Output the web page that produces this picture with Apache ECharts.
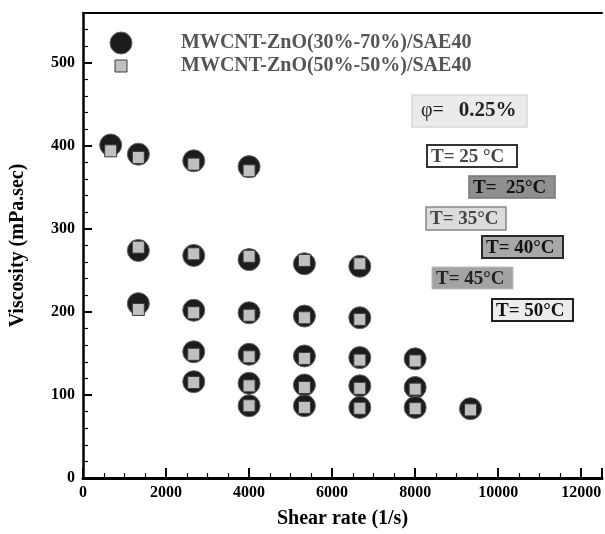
<!DOCTYPE html>
<html>
<head>
<meta charset="utf-8">
<script src="https://cdn.jsdelivr.net/npm/echarts@6/dist/echarts.min.js"></script>
<style>
html,body{margin:0;padding:0;background:#fff;}
#chart{width:605px;height:534px;}
</style>
</head>
<body>
<div id="chart"></div>
<script>
// Shear rate (1/s) for each temperature group
const shearT25 = [667, 1333, 2667, 4000];
const shearT35 = [1333, 2667, 4000, 5333, 6667];
const shearT40 = [1333, 2667, 4000, 5333, 6667];
const shearT45 = [2667, 4000, 5333, 6667, 8000];
const shearT50a = [2667, 4000, 5333, 6667, 8000];
const shearT50b = [4000, 5333, 6667, 8000, 9333];

// MWCNT-ZnO(30%-70%)/SAE40 viscosity (mPa.sec)
const visA_T25 = [401, 390, 382, 375];
const visA_T35 = [274, 268, 263, 258, 255];
const visA_T40 = [210, 202, 199, 195, 193];
const visA_T45 = [152, 149, 147, 145, 143.5];
const visA_T50a = [116, 114, 112, 111, 109];
const visA_T50b = [87, 87, 85, 85, 83.5];

// MWCNT-ZnO(50%-50%)/SAE40 viscosity (mPa.sec)
const visB_T25 = [394, 386, 378, 370];
const visB_T35 = [278, 270, 267, 262, 258];
const visB_T40 = [203, 199, 196, 193, 191];
const visB_T45 = [149, 146, 144, 142, 141];
const visB_T50a = [115, 111, 109, 108, 107];
const visB_T50b = [87, 85, 84, 83.5, 82];

const seriesNames = ['MWCNT-ZnO(30%-70%)/SAE40', 'MWCNT-ZnO(50%-50%)/SAE40'];
const tempLabels = ['T= 25 °C', 'T=  25°C', 'T= 35°C', 'T= 40°C', 'T= 45°C', 'T= 50°C'];
const phiLabel = '0.25%';

function pairs(xs, ys) { return xs.map((x, i) => [x, ys[i]]); }
const shearGroups = [shearT25, shearT35, shearT40, shearT45, shearT50a, shearT50b];
const visAGroups = [visA_T25, visA_T35, visA_T40, visA_T45, visA_T50a, visA_T50b];
const visBGroups = [visB_T25, visB_T35, visB_T40, visB_T45, visB_T50a, visB_T50b];
const dataA = [].concat(...shearGroups.map((s, i) => pairs(s, visAGroups[i])));
const dataB = [].concat(...shearGroups.map((s, i) => pairs(s, visBGroups[i])));

const FONT = "'Liberation Serif', 'Times New Roman', serif";

const boxes = [
  {x: 427, y: 145, w: 90, h: 22, fill: '#ffffff', stroke: '#333333', lw: 2, color: '#444444'},
  {x: 469, y: 176, w: 86, h: 22, fill: '#8f8f8f', stroke: '#777777', lw: 1.5, color: '#111111'},
  {x: 426, y: 207, w: 80, h: 23, fill: '#dcdcdc', stroke: '#888888', lw: 1.5, color: '#444444'},
  {x: 482, y: 236, w: 81, h: 22, fill: '#a8a8a8', stroke: '#2a2a2a', lw: 2, color: '#111111'},
  {x: 432, y: 267, w: 81, h: 22, fill: '#a3a3a3', stroke: '#bdbdbd', lw: 1, color: '#222222'},
  {x: 492, y: 299, w: 81, h: 22, fill: '#ececec', stroke: '#1e1e1e', lw: 2, color: '#111111'}
];

const graphics = [];
// legend
graphics.push({type: 'circle', shape: {cx: 121, cy: 43, r: 11}, style: {fill: '#1c1c1c', stroke: '#666', lineWidth: 1}});
graphics.push({type: 'rect', shape: {x: 115, y: 60, width: 12, height: 12}, style: {fill: '#c0c0c0', stroke: '#3a3a3a', lineWidth: 1}});
graphics.push({type: 'text', x: 181, y: 43, style: {text: seriesNames[0], font: 'bold 20px ' + FONT, fill: '#555555', verticalAlign: 'middle'}});
graphics.push({type: 'text', x: 181, y: 66, style: {text: seriesNames[1], font: 'bold 20px ' + FONT, fill: '#555555', verticalAlign: 'middle'}});
// phi box
graphics.push({type: 'rect', shape: {x: 412, y: 95, width: 115, height: 32}, style: {fill: '#ebebeb', stroke: '#d8d8d8', lineWidth: 1.5}});
graphics.push({type: 'text', x: 421, y: 111, style: {
  text: '{a|φ=   }{b|' + phiLabel + '}', verticalAlign: 'middle',
  rich: {a: {font: '20px ' + FONT, fill: '#222'}, b: {font: 'bold 21px ' + FONT, fill: '#222'}}
}});
boxes.forEach((b, i) => {
  graphics.push({type: 'rect', shape: {x: b.x, y: b.y, width: b.w, height: b.h}, style: {fill: b.fill, stroke: b.stroke, lineWidth: b.lw}});
  graphics.push({type: 'text', x: b.x + 4, y: b.y + b.h / 2 + 1, style: {text: tempLabels[i], font: 'bold 19px ' + FONT, fill: b.color, verticalAlign: 'middle'}});
});

const chart = echarts.init(document.getElementById('chart'), null, {renderer: 'canvas'});
chart.setOption({
  animation: false,
  backgroundColor: '#ffffff',
  grid: {left: 83, right: 3, top: 13, bottom: 52, containLabel: false},
  xAxis: [{
    type: 'value', min: 0, max: 12500, interval: 2000,
    name: 'Shear rate (1/s)', nameLocation: 'middle', nameGap: 31,
    nameTextStyle: {fontFamily: FONT, fontWeight: 'bold', fontSize: 20, color: '#000'},
    axisLine: {show: true, onZero: false, lineStyle: {color: '#000', width: 3}},
    axisTick: {show: true, inside: true, length: 10, lineStyle: {color: '#000', width: 2}},
    minorTick: {show: true, splitNumber: 4, length: 5, lineStyle: {color: '#000', width: 1.2}},
    axisLabel: {fontFamily: FONT, fontWeight: 'bold', fontSize: 16, color: '#000', margin: 7, showMaxLabel: false,
      formatter: v => String(v)},
    splitLine: {show: false}
  }, {
    type: 'value', position: 'top', min: 0, max: 12500,
    axisLine: {show: true, onZero: false, lineStyle: {color: '#000', width: 2}},
    axisTick: {show: false}, axisLabel: {show: false}, splitLine: {show: false}
  }],
  yAxis: {
    type: 'value', min: 0, max: 560, interval: 100,
    name: 'Viscosity (mPa.sec)', nameLocation: 'middle', nameGap: 55,
    nameTextStyle: {fontFamily: FONT, fontWeight: 'bold', fontSize: 20, color: '#000'},
    axisLine: {show: true, onZero: false, lineStyle: {color: '#000', width: 2.5}},
    axisTick: {show: true, inside: true, length: 9, lineStyle: {color: '#000', width: 2}},
    minorTick: {show: true, splitNumber: 5, length: 5, lineStyle: {color: '#000', width: 1.2}},
    axisLabel: {fontFamily: FONT, fontWeight: 'bold', fontSize: 16, color: '#000', margin: 8, showMaxLabel: false,
      formatter: v => String(v)},
    splitLine: {show: false}
  },
  series: [{
    name: seriesNames[0], type: 'scatter', data: dataA, symbol: 'circle', symbolSize: 22,
    itemStyle: {color: '#1c1c1c', borderColor: '#666666', borderWidth: 1, opacity: 1}, z: 2
  }, {
    name: seriesNames[1], type: 'scatter', data: dataB, symbol: 'rect', symbolSize: 12,
    itemStyle: {color: '#c0c0c0', borderColor: '#3a3a3a', borderWidth: 1, opacity: 1}, z: 3
  }],
  graphic: graphics
});
</script>
</body>
</html>
